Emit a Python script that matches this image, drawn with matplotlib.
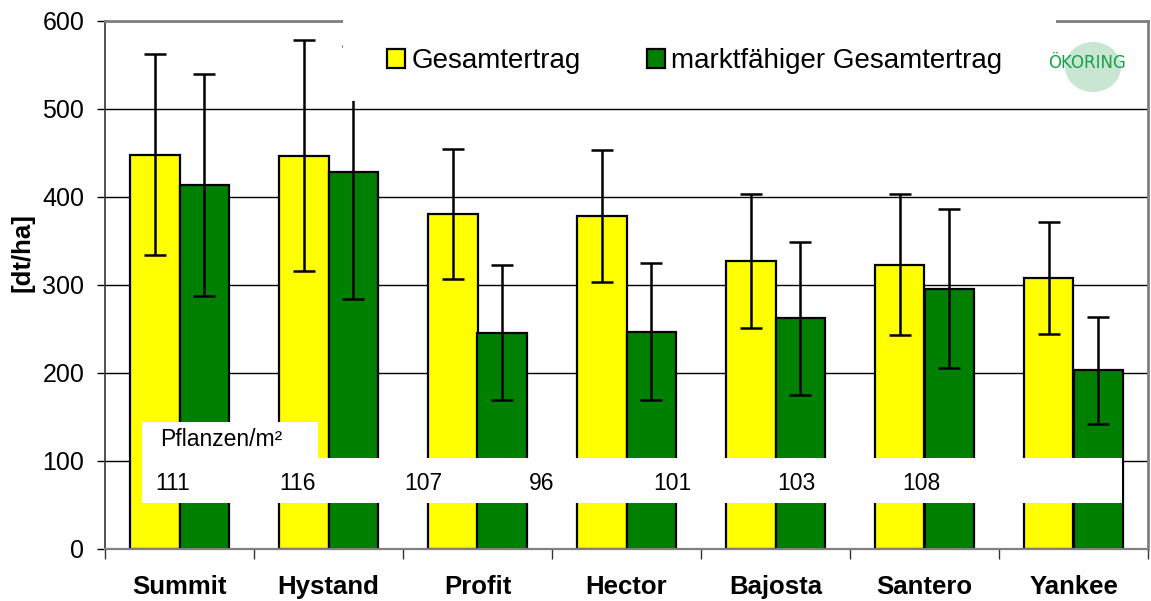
import numpy as np
import matplotlib.pyplot as plt
from matplotlib.patches import Rectangle, Ellipse

plt.rcParams['font.family'] = ['Liberation Sans', 'DejaVu Sans']

sorten = ['Summit', 'Hystand', 'Profit', 'Hector', 'Bajosta', 'Santero', 'Yankee']
gesamt = [448, 447, 381, 378, 327, 323, 308]
gesamt_err = [114, 131, 74, 75, 76, 80, 64]
markt = [414, 428, 246, 247, 262, 296, 203]
markt_err = [126, 144, 77, 78, 87, 90, 61]
pflanzen = [111, 116, 107, 96, 101, 103, 108]

W, H = 1151, 601
fig = plt.figure(figsize=(W / 100, H / 100), dpi=100)
ax = fig.add_axes([105 / W, (H - 549) / H, (1148 - 105) / W, (549 - 21) / H])

x = np.arange(len(sorten))
bw = 1 / 3
ax.bar(x - bw / 2, gesamt, bw, color='#ffff00', edgecolor='black', lw=1.6,
       label='Gesamtertrag', zorder=2)
ax.bar(x + bw / 2, markt, bw, color='#008000', edgecolor='black', lw=1.6,
       label='marktfähiger Gesamtertrag', zorder=2)
ax.errorbar(x - bw / 2, gesamt, yerr=gesamt_err, fmt='none', ecolor='black',
            elinewidth=1.8, capsize=8, capthick=1.8, zorder=3)
ax.errorbar(x + bw / 2, markt, yerr=markt_err, fmt='none', ecolor='black',
            elinewidth=1.8, capsize=8, capthick=1.8, zorder=3)

ax.set_xlim(-0.5, len(sorten) - 0.5)
ax.set_ylim(0, 600)
ax.set_yticks(range(0, 601, 100))
ax.yaxis.grid(True, color='black', lw=1)
ax.set_axisbelow(True)
ax.tick_params(axis='y', labelsize=18, length=6, width=1, direction='out', pad=9)
ax.set_xticks(x)
ax.set_xticklabels(sorten, fontsize=18.5, fontweight='bold')
ax.set_xticks(np.arange(len(sorten) + 1) - 0.5, minor=True)
ax.tick_params(axis='x', which='major', length=0, pad=19)
ax.tick_params(axis='x', which='minor', length=7, width=1, color='#333333')
ax.set_ylabel('[dt/ha]', fontsize=18.5, fontweight='bold')
ax.yaxis.set_label_coords((34 - 105) / 1043, (549 - 252) / 528)

for s in ['top', 'right']:
    ax.spines[s].set_color('#808080')
    ax.spines[s].set_linewidth(2)
ax.spines['left'].set_color('#333333')
ax.spines['bottom'].set_color('#808080')
ax.spines['left'].set_linewidth(1.2)
ax.spines['bottom'].set_linewidth(1.6)


def px(xp, yp):
    # pixel position in the picture -> axes fraction
    return ((xp - 105) / (1148 - 105), (549 - yp) / (549 - 21))


# legend area (white box over the top border)
x0, y0 = px(343, 101)
x1, y1 = px(1056, -5)
ax.add_patch(Rectangle((x0, y0), x1 - x0, y1 - y0, transform=ax.transAxes,
                       facecolor='white', edgecolor='none', zorder=5, clip_on=False))
lx, ly = px(387, 61)
leg = ax.legend(loc='center left', bbox_to_anchor=(lx, ly), ncol=2, frameon=False,
                fontsize=20, handlelength=0.65, handleheight=0.65, handletextpad=0.22,
                columnspacing=2.4, borderpad=0, borderaxespad=0)
leg.set_zorder(6)

# logo
fig.patches.append(Ellipse((1093 / W, (H - 67) / H), 56 / W, 50 / H,
                           transform=fig.transFigure, facecolor='#c9e6d3',
                           edgecolor='none', zorder=6))
fig.text(1087 / W, (H - 63) / H, 'ÖKORING', family='DejaVu Sans', color='#17a04a',
         fontsize=12, ha='center', va='center', zorder=7)

# Pflanzen/m² table
bx0, by0 = px(142, 458)
bx1, by1 = px(318, 422)
ax.add_patch(Rectangle((bx0, by0), bx1 - bx0, by1 - by0, transform=ax.transAxes,
                       facecolor='white', edgecolor='none', zorder=5))
tx0, ty0 = px(142, 503)
tx1, ty1 = px(1122, 458)
ax.add_patch(Rectangle((tx0, ty0), tx1 - tx0, ty1 - ty0, transform=ax.transAxes,
                       facecolor='white', edgecolor='none', zorder=5))
ptx, pty = px(160, 440)
ax.text(ptx, pty, 'Pflanzen/m²', transform=ax.transAxes, fontsize=16.5,
        ha='left', va='center', zorder=6)
for i, p in enumerate(pflanzen):
    nx, ny = px(155 + 124.5 * i, 483)
    ax.text(nx, ny, str(p), transform=ax.transAxes, fontsize=16.5,
            ha='left', va='center', zorder=6)

fig.savefig('out.png', dpi=100)
